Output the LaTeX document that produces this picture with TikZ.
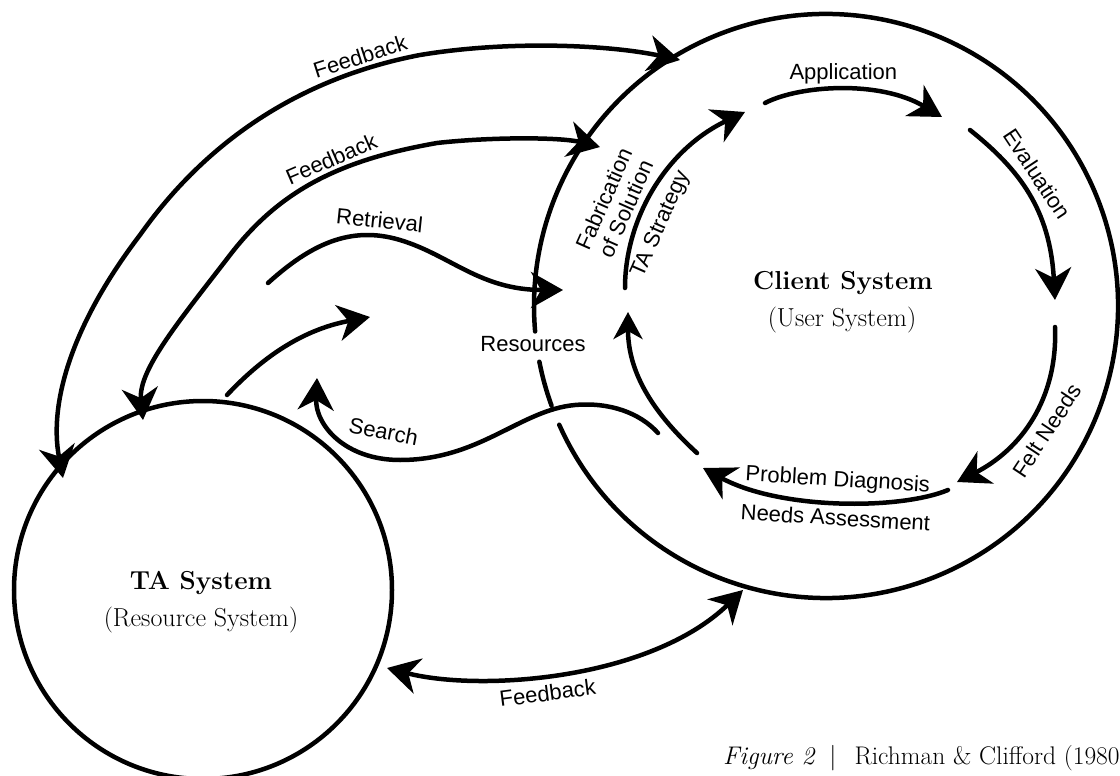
\documentclass[tikz,border=0pt]{standalone}
\usepackage{fontspec}
\newfontfamily\lblfont{Liberation Sans}
\usetikzlibrary{arrows.meta}
\tikzset{
  ln/.style={line width=4.5pt, line cap=round},
  hd/.style={ln, -{Stealth[length=32pt,width=36pt,inset=10pt]}},
  hds/.style={ln, -{Stealth[length=27pt,width=29pt,inset=8pt]}},
  hdd/.style={ln, {Stealth[length=32pt,width=36pt,inset=10pt]}-{Stealth[length=32pt,width=36pt,inset=10pt]}},
  lbl/.style={font=\lblfont\fontsize{22}{24}\selectfont, inner sep=3pt},
  ttl/.style={font=\fontsize{26}{30}\selectfont\bfseries, inner sep=0pt},
  sub/.style={font=\fontsize{26}{30}\selectfont, inner sep=0pt},
}
\begin{document}
\begin{tikzpicture}[x=1pt, y=-1pt]
\useasboundingbox (0,0) rectangle (1120,776);

% systems
\node[circle, draw, line width=4.5pt, minimum size=378pt, inner sep=0pt] (ta) at (203,590) {};
\node[circle, minimum size=584pt, inner sep=0pt, outer sep=0pt] (client) at (826,306) {};
\draw[ln] (client.204) arc[start angle=204, end angle=545, radius=292pt];
\draw[ln] (client.191) arc[start angle=191, end angle=200, radius=292pt];

\node[ttl, anchor=base] (clientT) at (843,289) {Client System};
\node[sub, anchor=base] (clientS) at (842,326) {(User System)};
\node[ttl, anchor=base] (taT) at (201,589) {TA System};
\node[sub, anchor=base] (taS) at (201,626) {(Resource System)};
\node[lbl] (res) at (533,344) {Resources};

% end points
\coordinate (f1a) at (63,478);  \coordinate (f1b) at (680,60);
\coordinate (f2a) at (143,420); \coordinate (f2b) at (600,147);
\coordinate (r1) at (268,283);  \coordinate (r2) at (563,290);
\coordinate (u1) at (227,395);  \coordinate (u2) at (370,317);
\coordinate (s1) at (658,433);  \coordinate (s2) at (317,378);
\coordinate (f3a) at (387,668); \coordinate (f3b) at (743,590);
\coordinate (st1) at (625,288); \coordinate (st2) at (745,112);
\coordinate (ap1) at (765,103); \coordinate (ap2) at (942,117);
\coordinate (ev1) at (970,130); \coordinate (ev2) at (1055,300);
\coordinate (fn1) at (1055,327); \coordinate (fn2) at (957,482);
\coordinate (pd1) at (948,490); \coordinate (pd2) at (703,468);
\coordinate (rt1) at (697,453); \coordinate (rt2) at (628,312);

% feedback loops TA <-> client
\draw[hdd] (f1a) .. controls (48,400) and (75,320) .. (140,235)
  .. controls (200,150) and (290,80) .. (420,55) node[lbl, pos=0.85, sloped, above] (fbtop) {Feedback}
  .. controls (510,40) and (610,45) .. (f1b);
\draw[hdd] (f2a) .. controls (138,370) and (180,320) .. (230,255)
  .. controls (280,190) and (340,160) .. (437,143) node[lbl, pos=0.6, sloped, above] (fbmid) {Feedback}
  .. controls (490,137) and (560,137) .. (f2b);
\draw[hdd] (f3a) .. controls (480,692) and (650,680) .. (f3b) node[lbl, pos=0.45, sloped, below=5pt] (fbbot) {Feedback};

% retrieval / search
\draw[hd] (r1) .. controls (310,245) and (350,225) .. (400,240) node[lbl, pos=0.85, sloped, above=2pt] (retr) {Retrieval}
  .. controls (450,255) and (480,290) .. (r2);
\draw[hd] (u1) .. controls (260,360) and (300,330) .. (u2);
\draw[hd] (s1) .. controls (640,413) and (610,402) .. (575,405)
  .. controls (520,410) and (480,460) .. (400,460)
  .. controls (345,460) and (315,425) .. (s2) node[lbl, pos=0.14, sloped, above=14pt] (search) {Search};

% inner cycle
\draw[hd] (st1) .. controls (625,220) and (665,150) .. (st2)
  node[lbl, pos=0.36, sloped, below=7pt] (tas) {TA Strategy}
  node[lbl, pos=0.36, sloped, above=3pt, align=center] (fab) {Fabrication\\of Solution};
\draw[hd] (ap1) .. controls (800,85) and (880,80) .. (ap2) node[lbl, pos=0.5, above] (app) {Application};
\draw[hd] (ev1) .. controls (1020,170) and (1050,210) .. (ev2) node[lbl, pos=0.42, sloped, above=5pt] (eval) {Evaluation};
\draw[hd] (fn1) .. controls (1058,400) and (1020,450) .. (fn2) node[lbl, pos=0.5, sloped, below=6pt] (felt) {Felt Needs};
\draw[hd] (pd1) .. controls (900,510) and (780,510) .. (pd2)
  node[lbl, pos=0.5, sloped, above=6pt] (pd) {Problem Diagnosis}
  node[lbl, pos=0.5, sloped, below=2pt] (na) {Needs Assessment};
\draw[hds] (rt1) .. controls (650,410) and (628,370) .. (rt2);

% caption
\node[anchor=base west, inner sep=0pt, font=\fontsize{25.5}{30}\selectfont] (cap) at (723,764)
  {\textit{Figure 2}\hspace{14pt}|\hspace{18pt}Richman \& Clifford (1980};
\end{tikzpicture}
\end{document}
